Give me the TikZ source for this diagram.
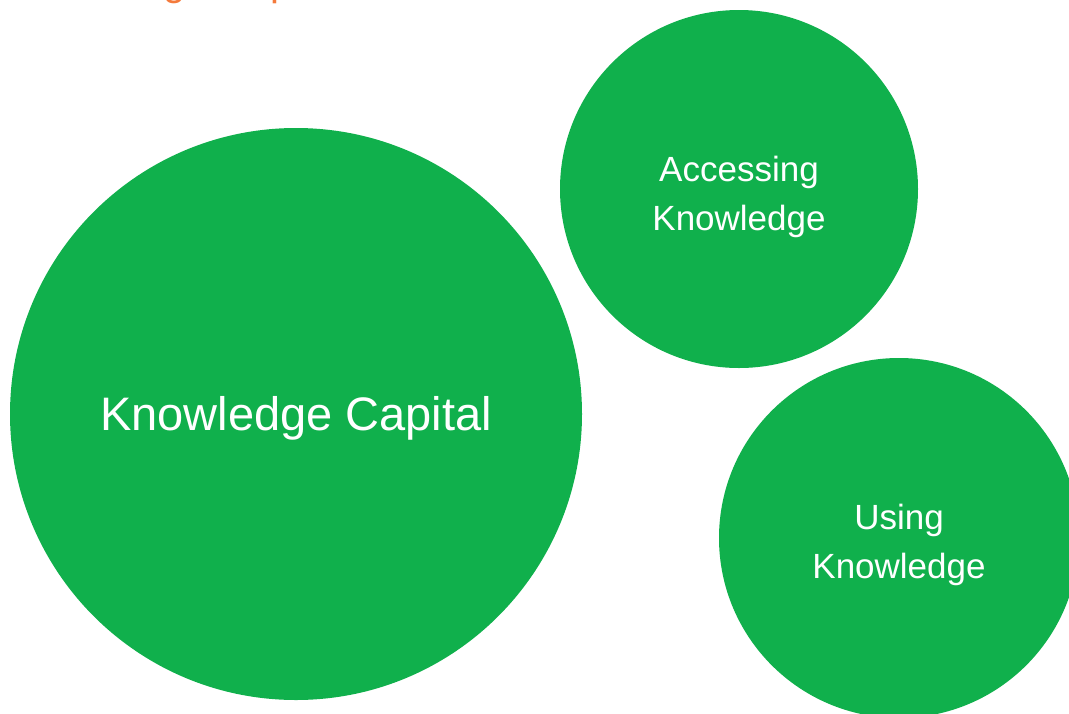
\documentclass[tikz,border=0pt]{standalone}
\usepackage{fontspec}
\setmainfont{Liberation Sans}
\definecolor{kgreen}{HTML}{10B04C}
\definecolor{korange}{HTML}{F47A3C}
\tikzset{
  bubble/.style={circle,fill=kgreen,align=center,inner sep=0pt},
  blabel/.style={text=white,align=center,inner sep=0pt},
}
\begin{document}
\begin{tikzpicture}[x=1pt,y=-1pt]
  % Rahmen
  \useasboundingbox (0,0) rectangle (1069,713);
  \clip (0,0) rectangle (1069,713);
  % Titel (oben abgeschnitten)
  \node[anchor=base west,inner sep=0pt,text=korange,font=\fontsize{40}{48}\selectfont] (title) at (10,-5) {Knowledge Capital};
  % Kreise
  \node[bubble,minimum size=572] (capital) at (296,414) {};
  \node[bubble,minimum size=358] (access) at (739,189) {};
  \node[bubble,minimum size=360] (using) at (899,538) {};
  % Beschriftungen
  \node[blabel,font=\fontsize{47}{56}\selectfont] (capitaltext) at ([yshift=-4]capital.center) {Knowledge Capital};
  \node[blabel,font=\fontsize{35}{49}\selectfont] (accesstext) at ([yshift=-8]access.center) {Accessing\\Knowledge};
  \node[blabel,font=\fontsize{35}{49}\selectfont] (usingtext) at ([yshift=-7]using.center) {Using\\Knowledge};
\end{tikzpicture}
\end{document}
